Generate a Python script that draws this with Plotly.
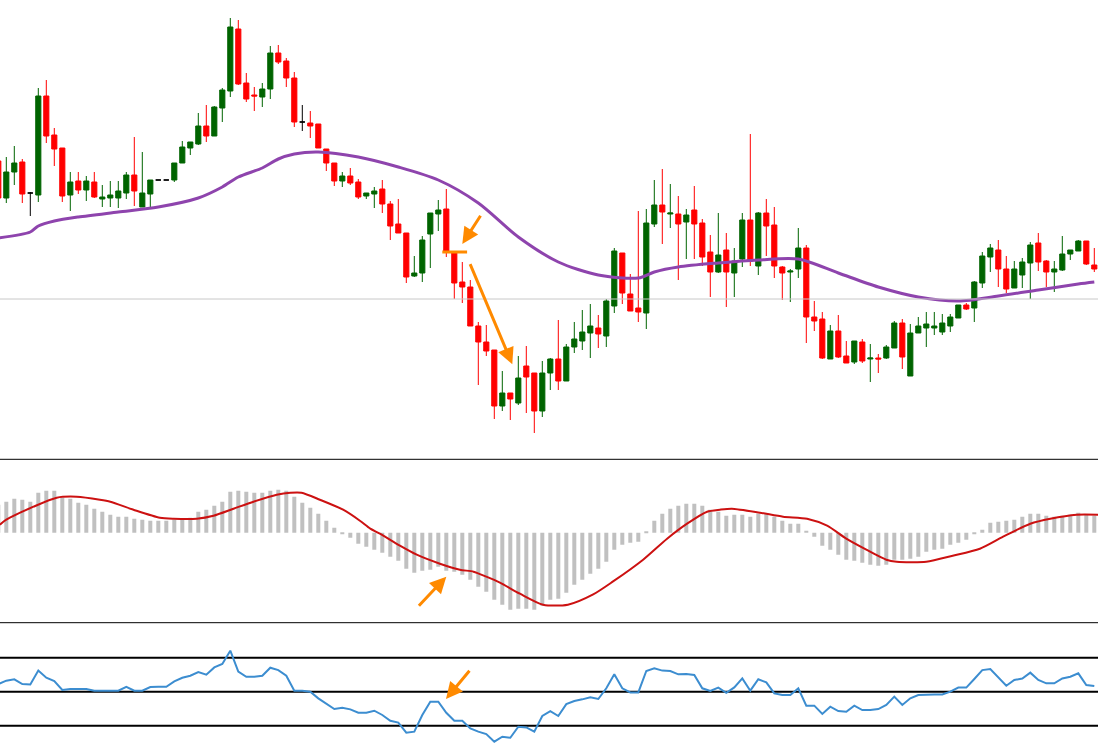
import plotly.graph_objects as go
from plotly.subplots import make_subplots

# prices are stored as pips above BASE
BASE = 1.1000
PIP = 0.0001

open_pips = [
    299, 262, 288, 298, 267, 265, 364, 325, 312, 265,
    279, 270, 278, 261, 262, 262, 267, 285, 253, 266,
    280, 280, 280, 297, 312, 316, 334, 324, 352, 369,
    431, 377, 365, 363, 371, 407, 399, 382, 338, 337,
    336, 311, 297, 279, 284, 278, 264, 266, 271, 256,
    236, 227, 184, 187, 226, 246, 251, 207, 178, 173,
    134, 118, 110, 54, 67, 57, 94, 87, 49, 87,
    101, 79, 113, 119, 127, 132, 124, 154, 207, 166,
    152, 147, 236, 255, 246, 246, 238, 250, 237, 208,
    188, 210, 187, 201, 240, 194, 247, 235, 193, 188,
    191, 212, 143, 141, 101, 129, 104, 98, 118, 101,
    102, 102, 112, 137, 84, 127, 132, 132, 128, 134,
    142, 155, 152, 177, 203, 210, 191, 172, 185, 197,
    217, 199, 188, 190, 206, 209, 219, 195,
]
high_pips = [
    305, 303, 314, 301, 268, 372, 380, 332, 312, 288,
    288, 284, 288, 275, 279, 279, 288, 323, 308, 280,
    280, 280, 297, 319, 318, 347, 355, 354, 372, 442,
    440, 387, 373, 377, 414, 415, 402, 388, 355, 349,
    336, 311, 297, 288, 292, 281, 267, 273, 280, 259,
    261, 227, 204, 224, 247, 260, 271, 207, 198, 180,
    138, 135, 110, 89, 67, 104, 114, 87, 99, 102,
    140, 116, 138, 150, 156, 145, 161, 212, 207, 186,
    249, 251, 280, 291, 276, 264, 251, 274, 241, 225,
    247, 227, 212, 247, 326, 248, 261, 253, 194, 191,
    232, 215, 159, 148, 135, 145, 119, 119, 121, 116,
    106, 115, 139, 141, 136, 143, 148, 148, 146, 146,
    155, 157, 179, 208, 216, 220, 204, 199, 202, 218,
    227, 200, 199, 224, 210, 220, 219, 212,
]
low_pips = [
    257, 257, 275, 257, 244, 258, 317, 294, 258, 249,
    266, 259, 262, 253, 253, 252, 261, 254, 253, 253,
    280, 280, 278, 297, 305, 315, 318, 324, 338, 363,
    375, 358, 349, 353, 361, 396, 373, 333, 329, 322,
    312, 289, 274, 273, 275, 261, 261, 252, 247, 220,
    227, 177, 183, 178, 192, 229, 203, 161, 157, 134,
    75, 104, 41, 49, 40, 55, 47, 27, 43, 70,
    70, 79, 107, 110, 102, 112, 113, 147, 156, 149,
    138, 131, 233, 216, 232, 180, 201, 201, 194, 163,
    187, 153, 163, 193, 194, 185, 204, 182, 160, 158,
    182, 117, 129, 101, 101, 102, 97, 96, 97, 78,
    87, 101, 112, 91, 84, 127, 113, 125, 125, 128,
    142, 150, 138, 172, 188, 173, 167, 172, 172, 161,
    189, 173, 168, 189, 200, 209, 195, 188,
]
close_pips = [
    262, 288, 297, 266, 267, 364, 324, 311, 264, 278,
    270, 279, 263, 263, 265, 269, 285, 269, 267, 280,
    280, 280, 297, 313, 318, 334, 324, 353, 370, 433,
    376, 361, 364, 371, 407, 398, 382, 338, 338, 334,
    312, 297, 279, 284, 277, 263, 267, 269, 256, 234,
    227, 183, 187, 220, 247, 250, 209, 177, 173, 134,
    118, 109, 54, 67, 61, 82, 83, 49, 87, 101,
    79, 113, 121, 128, 134, 126, 159, 209, 167, 149,
    148, 237, 255, 248, 247, 236, 245, 236, 203, 188,
    205, 188, 199, 240, 199, 247, 234, 194, 187, 189,
    212, 143, 139, 102, 129, 103, 97, 119, 99, 102,
    101, 113, 137, 103, 127, 134, 136, 134, 137, 143,
    155, 151, 178, 204, 212, 191, 171, 191, 198, 215,
    198, 188, 191, 206, 210, 219, 196, 191,
]

# moving average, sampled at some bars
ma_bars = [0, 4, 5, 7, 10, 15, 20, 25, 28, 30, 33, 35, 37, 40, 45, 50, 55, 60, 65,
           70, 75, 80, 82, 85, 90, 95, 100, 105, 110, 115, 120, 125, 130, 135, 137]
ma_pips = [222, 228, 234, 239, 243, 248, 253, 262, 273, 283, 292, 301, 306, 308, 303,
           293, 280, 257, 223, 198, 185, 182, 188, 193, 197, 200, 201, 187, 173, 163,
           159, 164, 170, 176, 178]
level_pips = 161

# MACD histogram (points) and its signal line
macd_hist = [
    28, 31, 34, 33, 31, 40, 42, 42, 35, 34,
    30, 28, 24, 21, 18, 16, 16, 14, 13, 12,
    12, 12, 13, 14, 15, 21, 23, 27, 31, 41,
    42, 41, 40, 40, 42, 43, 42, 36, 30, 25,
    19, 12, 5, -0.7, -5, -11, -14, -17, -20, -24,
    -28, -36, -40, -38, -37, -34, -38, -39, -42, -47,
    -54, -59, -67, -72, -77, -76, -76, -77, -73, -67,
    -66, -60, -52, -47, -41, -36, -29, -17, -12, -10,
    -9, 0.7, 12, 19, 24, 27, 29, 29, 27, 23,
    21, 17, 18, 18, 16, 19, 19, 16, 12, 9,
    9, 2, -4, -13, -17, -22, -27, -28, -30, -32,
    -33, -32, -27, -27, -26, -24, -19, -17, -16, -12,
    -10, -7, -1.3, 3, 10, 11, 12, 13, 16, 19,
    19, 17, 16, 17, 18, 20, 18, 17,
]
signal_bars = [0.2, 1.0, 4.4, 7.3, 9.8, 12.7, 14.0, 16.9, 20.2, 21.9, 24.8, 26.9, 29.4,
               31.9, 34.8, 36.5, 37.9, 40.2, 43.1, 45.2, 46.5, 47.7, 50.2, 52.3, 55.2,
               57.7, 59.4, 61.0, 62.7, 65.2, 68.1, 71.2, 74.3, 76.8, 80.6, 83.6, 86.1,
               88.6, 90.2, 91.7, 95.2, 98.1, 101.1, 103.6, 106.0, 108.5, 111.0, 112.3,
               116.0, 119.3, 122.7, 125.6, 129.0, 131.5, 134.8, 137.5]
signal_vals = [8, 13, 26, 35, 36, 33, 31, 23, 15, 14, 14, 17, 24, 31, 38, 40, 40, 33, 23,
               12, 4, -1, -13, -22, -31, -37, -39, -44, -50, -61, -72, -72, -62, -49,
               -27, -6, 9, 21, 23, 24, 20, 16, 14, 7, -6, -17, -27, -29, -29, -23, -16,
               -4, 9, 14, 18, 18]

# oscillator
rsi = [
    54.5, 56.5, 57.3, 54.5, 54.3, 62.4, 58.2, 56.3, 51.0, 51.6,
    51.6, 51.6, 50.6, 50.6, 50.6, 50.6, 52.9, 50.6, 50.6, 52.7,
    52.9, 52.9, 56.1, 58.2, 59.4, 61.6, 60.0, 64.3, 66.3, 74.1,
    61.8, 58.8, 58.8, 59.4, 64.1, 62.7, 59.4, 50.6, 50.6, 50.0,
    46.1, 42.7, 39.8, 40.6, 39.6, 37.6, 37.6, 38.8, 36.3, 32.9,
    31.8, 25.9, 26.5, 36.3, 44.1, 44.1, 37.6, 32.9, 32.9, 28.4,
    26.5, 25.1, 20.6, 23.5, 22.9, 29.4, 29.0, 26.5, 35.7, 38.6,
    35.7, 42.7, 44.5, 45.5, 46.7, 45.7, 52.0, 60.2, 52.0, 49.6,
    49.6, 62.2, 63.7, 62.4, 62.2, 60.2, 60.4, 59.8, 52.0, 50.4,
    52.4, 49.4, 52.5, 57.8, 50.6, 57.3, 55.5, 49.0, 48.0, 48.0,
    52.0, 41.8, 41.8, 36.9, 41.2, 38.6, 38.2, 41.8, 39.2, 39.2,
    39.8, 42.2, 47.1, 42.2, 46.1, 48.0, 48.4, 48.4, 48.4, 50.0,
    52.4, 52.4, 57.5, 62.7, 63.3, 58.4, 53.5, 56.9, 57.8, 61.2,
    56.9, 54.9, 54.9, 57.8, 58.8, 60.8, 53.9, 53.3,
]
rsi_levels = [30, 50, 70]

GREEN = "#006400"
RED = "#FF0000"
ORANGE = "#FF8A00"

px = lambda v: BASE + v * PIP
o = [px(v) for v in open_pips]
h = [px(v) for v in high_pips]
l = [px(v) for v in low_pips]
c = [px(v) for v in close_pips]
bars = list(range(len(o)))

fig = make_subplots(rows=3, cols=1, shared_xaxes=True, vertical_spacing=0)

groups = {
    "up": [i for i in bars if c[i] > o[i]],
    "down": [i for i in bars if c[i] < o[i]],
    "doji": [i for i in bars if c[i] == o[i]],
}
colors = {"up": GREEN, "down": RED, "doji": "black"}
for name, idx in groups.items():
    col = colors[name]
    fig.add_trace(go.Candlestick(
        x=idx, open=[o[i] for i in idx], high=[h[i] for i in idx],
        low=[l[i] for i in idx], close=[c[i] for i in idx],
        increasing=dict(line=dict(color=col, width=1), fillcolor=col),
        decreasing=dict(line=dict(color=col, width=1), fillcolor=col),
        whiskerwidth=0, showlegend=False, name=name,
    ), row=1, col=1)

fig.add_trace(go.Scatter(
    x=ma_bars, y=[px(v) for v in ma_pips], mode="lines",
    line=dict(color="#8E44AD", width=3, shape="spline", smoothing=0.8),
    showlegend=False,
), row=1, col=1)
fig.add_hline(y=px(level_pips), line_color="#C8C8C8", line_width=1, row=1, col=1)

fig.add_trace(go.Bar(
    x=bars, y=macd_hist, marker_color="#C0C0C0", marker_line_width=0,
    showlegend=False,
), row=2, col=1)
fig.add_trace(go.Scatter(
    x=signal_bars, y=signal_vals, mode="lines",
    line=dict(color="#CC1111", width=2, shape="spline", smoothing=0.7),
    showlegend=False,
), row=2, col=1)

fig.add_trace(go.Scatter(
    x=bars, y=rsi, mode="lines",
    line=dict(color="#3C8DD0", width=2),
    showlegend=False,
), row=3, col=1)
for lv in rsi_levels:
    fig.add_hline(y=lv, line_color="black", line_width=2, row=3, col=1, layer="below")

# orange markup
fig.add_shape(type="line", x0=55.5, x1=58.6, y0=px(208), y1=px(208),
              line=dict(color=ORANGE, width=3), xref="x", yref="y")
arrows = [
    ("x", "y", 58.0, px(216), 60.4, px(245.7)),
    ("x", "y", 64.25, px(95.7), 58.9, px(197.3)),
    ("x2", "y2", 56.0, -44, 52.4, -74.6),
    ("x3", "y3", 55.96, 45.7, 59.05, 63.2),
]
for xr, yr, x, y, ax, ay in arrows:
    fig.add_annotation(x=x, y=y, ax=ax, ay=ay, xref=xr, yref=yr, axref=xr, ayref=yr,
                       text="", showarrow=True, arrowhead=2, arrowsize=1.1,
                       arrowwidth=3, arrowcolor=ORANGE, standoff=0)

# panel separators
for yp in [1 - 459.3 / 755, 1 - 622.7 / 755]:
    fig.add_shape(type="line", xref="paper", yref="paper", x0=0, x1=1, y0=yp, y1=yp,
                  line=dict(color="black", width=1))

fig.update_xaxes(range=[0.2125, 137.4625], showticklabels=False, showgrid=False,
                 zeroline=False, showline=False, rangeslider_visible=False)
fig.update_yaxes(showticklabels=False, showgrid=False, zeroline=False, showline=False)
fig.update_layout(
    yaxis=dict(domain=[1 - 459.3 / 755, 1], range=[px(0.7), px(460)]),
    yaxis2=dict(domain=[1 - 622.7 / 755, 1 - 459.3 / 755], range=[-90, 73.4]),
    yaxis3=dict(domain=[0, 1 - 622.7 / 755], range=[12.76, 90.59]),
    width=1098, height=755,
    margin=dict(l=0, r=0, t=0, b=0),
    paper_bgcolor="white", plot_bgcolor="white",
    boxgap=0.2, boxgroupgap=0.2, bargap=0.5,
    showlegend=False,
)

# drop the page margin so the 1098x755 figure fills the window
fig.write_html("out.html", config={"displayModeBar": False},
               post_script="document.body.style.margin='0';")
